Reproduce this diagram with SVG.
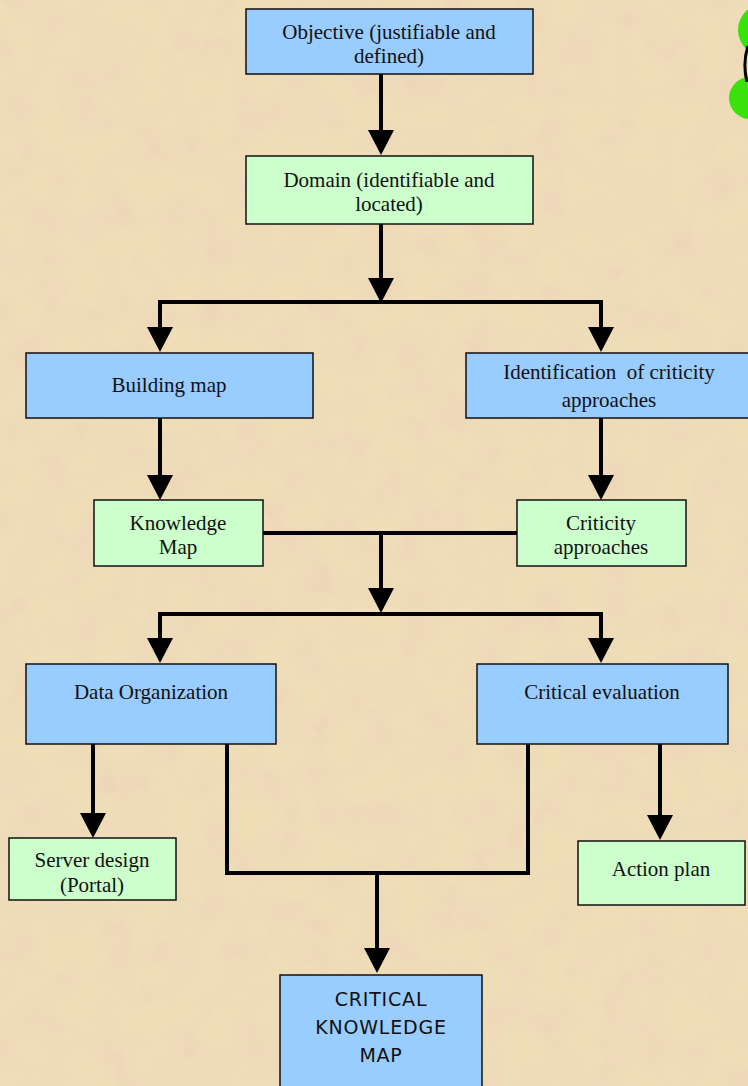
<svg xmlns="http://www.w3.org/2000/svg" width="748" height="1086" viewBox="0 0 748 1086">
<defs>
<filter id="paper" x="0" y="0" width="100%" height="100%">
<feTurbulence type="fractalNoise" baseFrequency="0.03" numOctaves="5" seed="7" result="n"/>
<feColorMatrix in="n" type="matrix" values="0 0 0 0 0.84  0 0 0 0 0.66  0 0 0 0 0.48  0 0 0 1.6 -0.62" result="c"/>
<feComposite in="c" in2="SourceGraphic" operator="over"/>
</filter>
<style>
.blue{fill:#99CCFF;stroke:#111;stroke-width:1.5}
.green{fill:#CCFFCC;stroke:#111;stroke-width:1.5}
.t{font-family:"Liberation Serif","Times New Roman",serif;font-size:21px;fill:#111;text-anchor:middle}
.c{font-family:"DejaVu Sans","Comic Sans MS",sans-serif;font-size:19px;fill:#111;text-anchor:middle;letter-spacing:0.8px}
.ln{fill:none;stroke:#000;stroke-width:4}
.ar{fill:#000}
</style>
</defs>
<rect x="0" y="0" width="748" height="1086" fill="#EFDDB8" filter="url(#paper)"/>
<g id="deco">
<circle cx="764" cy="30" r="26" fill="#38E20A"/>
<circle cx="750" cy="98" r="21" fill="#38E20A"/>
<path d="M748,46 C744,58 744,70 747,82" fill="none" stroke="#000" stroke-width="3"/>
</g>
<g id="connectors">
<path class="ln" d="M381,74 V132"/>
<path class="ar" d="M368,130 H394 L381,155 Z"/>
<path class="ln" d="M381,224 V280"/>
<path class="ar" d="M368,278 H394 L381,303 Z"/>
<path class="ln" d="M160,329 V302 H601 V329"/>
<path class="ar" d="M147,327 H173 L160,352 Z"/>
<path class="ar" d="M588,327 H614 L601,352 Z"/>
<path class="ln" d="M160,418 V477"/>
<path class="ar" d="M147,475 H173 L160,500 Z"/>
<path class="ln" d="M601,418 V477"/>
<path class="ar" d="M588,475 H614 L601,500 Z"/>
<path class="ln" d="M263,533 H517"/>
<path class="ln" d="M381,533 V590"/>
<path class="ar" d="M368,588 H394 L381,613 Z"/>
<path class="ln" d="M160,640 V614 H601 V640"/>
<path class="ar" d="M147,638 H173 L160,663 Z"/>
<path class="ar" d="M588,638 H614 L601,663 Z"/>
<path class="ln" d="M93,744 V815"/>
<path class="ar" d="M80,813 H106 L93,838 Z"/>
<path class="ln" d="M660,744 V817"/>
<path class="ar" d="M647,815 H673 L660,840 Z"/>
<path class="ln" d="M227,744 V873 H528 V744"/>
<path class="ln" d="M377,873 V950"/>
<path class="ar" d="M364,948 H390 L377,973 Z"/>
</g>
<g id="objective">
<rect class="blue" x="246" y="9" width="287" height="65"/>
<text class="t" x="389" y="39">Objective (justifiable and</text>
<text class="t" x="389" y="63">defined)</text>
</g>
<g id="domain">
<rect class="green" x="246" y="156" width="287" height="68"/>
<text class="t" x="389" y="187">Domain (identifiable and</text>
<text class="t" x="389" y="211">located)</text>
</g>
<g id="building-map">
<rect class="blue" x="26" y="353" width="287" height="65"/>
<text class="t" x="169" y="392">Building map</text>
</g>
<g id="identification">
<rect class="blue" x="466" y="353" width="290" height="65"/>
<text class="t" x="609" y="379" xml:space="preserve">Identification  of criticity</text>
<text class="t" x="609" y="407">approaches</text>
</g>
<g id="knowledge-map">
<rect class="green" x="94" y="500" width="169" height="66"/>
<text class="t" x="178" y="530">Knowledge</text>
<text class="t" x="178" y="554">Map</text>
</g>
<g id="criticity-approaches">
<rect class="green" x="517" y="500" width="169" height="66"/>
<text class="t" x="601" y="530">Criticity</text>
<text class="t" x="601" y="554">approaches</text>
</g>
<g id="data-organization">
<rect class="blue" x="26" y="664" width="250" height="80"/>
<text class="t" x="151" y="699">Data Organization</text>
</g>
<g id="critical-evaluation">
<rect class="blue" x="477" y="664" width="251" height="80"/>
<text class="t" x="602" y="699">Critical evaluation</text>
</g>
<g id="server-design">
<rect class="green" x="9" y="838" width="167" height="62"/>
<text class="t" x="92" y="867">Server design</text>
<text class="t" x="92" y="892">(Portal)</text>
</g>
<g id="action-plan">
<rect class="green" x="578" y="841" width="167" height="64"/>
<text class="t" x="661" y="876">Action plan</text>
</g>
<g id="critical-knowledge-map">
<rect class="blue" x="280" y="975" width="202" height="120"/>
<text class="c" x="381" y="1006">CRITICAL</text>
<text class="c" x="381" y="1034">KNOWLEDGE</text>
<text class="c" x="381" y="1062">MAP</text>
</g>
</svg>
